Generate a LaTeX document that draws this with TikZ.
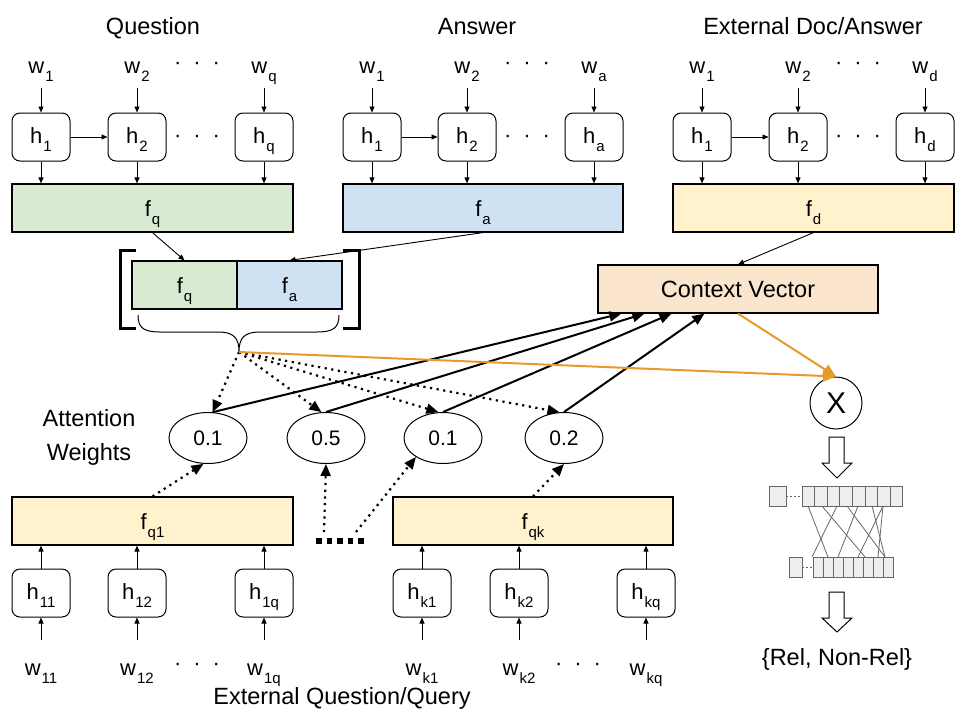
\documentclass[tikz,border=0pt]{standalone}
\usepackage{fontspec}
\setmainfont{Liberation Sans}
\usetikzlibrary{arrows.meta,shapes.geometric}

\definecolor{qgreen}{HTML}{D9EAD3}
\definecolor{ablue}{HTML}{CFE2F3}
\definecolor{dyellow}{HTML}{FFF2CC}
\definecolor{cpeach}{HTML}{FCE5CD}
\definecolor{mixorange}{HTML}{E8992B}
\definecolor{netgray}{HTML}{666666}
\definecolor{cellgray}{HTML}{EEEEEE}

\newcommand{\lowidx}[1]{\kern1pt\raisebox{-8pt}{\fontsize{15}{15}\selectfont #1}}
\newcommand{\threedots}{·\hspace{12pt}·\hspace{12pt}·}

\begin{document}
\begin{tikzpicture}[x=1pt,y=-1pt,
  hbox/.style={draw,line width=1pt,rounded corners=8pt,minimum width=58pt,minimum height=48pt,
    inner sep=0pt,text height=16pt,text depth=4pt,font=\fontsize{22}{26}\selectfont},
  featbox/.style={draw,line width=1.2pt,minimum width=281pt,minimum height=48pt,
    inner sep=0pt,text height=16pt,text depth=0pt,font=\fontsize{22}{26}\selectfont},
  wlab/.style={anchor=base,inner sep=0pt,font=\fontsize{22}{26}\selectfont},
  head/.style={anchor=base,inner sep=0pt,font=\fontsize{23.5}{28}\selectfont},
  weight/.style={draw,ellipse,line width=1pt,minimum width=78pt,minimum height=51pt,
    inner sep=0pt,font=\fontsize{21}{25}\selectfont},
  feed/.style={-{Triangle[length=6pt,width=5pt]},line width=0.9pt},
  attnarr/.style={-{Triangle[length=12pt,width=10pt]},line width=2pt},
  dotarr/.style={-{Triangle[length=12pt,width=10pt]},line width=2.2pt,dash pattern=on 2.2pt off 4.5pt},
  mixarr/.style={-{Triangle[length=13pt,width=11pt]},line width=2pt,mixorange},
  netline/.style={netgray,line width=0.8pt}]
\useasboundingbox (0,0) rectangle (960,720);

% question encoder
\node[head] (qtitle) at (153,34) {Question};
\node[wlab] (qw1) at (41,73) {w\lowidx{1}};
\node[wlab] (qw2) at (137,73) {w\lowidx{2}};
\node[wlab] (qwq) at (264,73) {w\lowidx{q}};
\node[wlab] (qwdots) at (197,69.5) {\threedots};
\node[hbox] (qh1) at (41,137) {h\lowidx{1}};
\node[hbox] (qh2) at (137,137) {h\lowidx{2}};
\node[hbox] (qhq) at (264,137) {h\lowidx{q}};
\node[wlab] (qhdots) at (197,142.5) {\threedots};
\node[featbox,fill=qgreen] (fq) at (152.5,208) {f\lowidx{q}};
\draw[feed] ([yshift=-15pt]qw1.base) -- (qh1);
\draw[feed] ([yshift=-15pt]qw2.base) -- (qh2);
\draw[feed] ([yshift=-15pt]qwq.base) -- (qhq);
\draw[feed] (qh1) -- (qh2);
\draw[feed] (qh1) -- (qh1 |- fq.north);
\draw[feed] (qh2) -- (qh2 |- fq.north);
\draw[feed] (qhq) -- (qhq |- fq.north);

% answer encoder
\node[head] (atitle) at (477,34) {Answer};
\node[wlab] (aw1) at (372,73) {w\lowidx{1}};
\node[wlab] (aw2) at (467,73) {w\lowidx{2}};
\node[wlab] (awa) at (594,73) {w\lowidx{a}};
\node[wlab] (awdots) at (527,69.5) {\threedots};
\node[hbox] (ah1) at (372,137) {h\lowidx{1}};
\node[hbox] (ah2) at (467,137) {h\lowidx{2}};
\node[hbox] (aha) at (594,137) {h\lowidx{a}};
\node[wlab] (ahdots) at (527,142.5) {\threedots};
\node[featbox,fill=ablue,minimum width=280pt] (fa) at (483,208) {f\lowidx{a}};
\draw[feed] ([yshift=-15pt]aw1.base) -- (ah1);
\draw[feed] ([yshift=-15pt]aw2.base) -- (ah2);
\draw[feed] ([yshift=-15pt]awa.base) -- (aha);
\draw[feed] (ah1) -- (ah2);
\draw[feed] (ah1) -- (ah1 |- fa.north);
\draw[feed] (ah2) -- (ah2 |- fa.north);
\draw[feed] (aha) -- (aha |- fa.north);

% external doc encoder
\node[head] (dtitle) at (813,34) {External Doc/Answer};
\node[wlab] (dw1) at (702,73) {w\lowidx{1}};
\node[wlab] (dw2) at (798,73) {w\lowidx{2}};
\node[wlab] (dwd) at (925,73) {w\lowidx{d}};
\node[wlab] (dwdots) at (858,69.5) {\threedots};
\node[hbox] (dh1) at (702,137) {h\lowidx{1}};
\node[hbox] (dh2) at (798,137) {h\lowidx{2}};
\node[hbox] (dhd) at (925,137) {h\lowidx{d}};
\node[wlab] (dhdots) at (858,142.5) {\threedots};
\node[featbox,fill=dyellow] (fd) at (813.5,208) {f\lowidx{d}};
\draw[feed] ([yshift=-15pt]dw1.base) -- (dh1);
\draw[feed] ([yshift=-15pt]dw2.base) -- (dh2);
\draw[feed] ([yshift=-15pt]dwd.base) -- (dhd);
\draw[feed] (dh1) -- (dh2);
\draw[feed] (dh1) -- (dh1 |- fd.north);
\draw[feed] (dh2) -- (dh2 |- fd.north);
\draw[feed] (dhd) -- (dhd |- fd.north);

% concatenated question/answer
\node[featbox,fill=qgreen,minimum width=105pt] (cq) at (184.5,285) {f\lowidx{q}};
\node[featbox,fill=ablue,minimum width=105pt] (ca) at (289.5,285) {f\lowidx{a}};
\draw[feed] (fq.south) -- (cq.north);
\draw[feed] (fa.south) -- (ca.north);
\draw[line width=3pt] (136,250) -- (120,250) -- (120,328) -- (136,328);
\draw[line width=3pt] (343,250) -- (359,250) -- (359,328) -- (343,328);
\coordinate (tip) at (239,352);
\draw[line width=1pt] (138,315) .. controls (138,328) and (144,332) .. (160,332) -- (218,332)
  .. controls (234,332) and (239,338) .. (tip) .. controls (239,338) and (244,332) .. (260,332)
  -- (317,332) .. controls (333,332) and (339,328) .. (339,315);

% context vector
\node[featbox,fill=cpeach,minimum width=280pt,text height=17pt,font=\fontsize{23.5}{28}\selectfont] (cv) at (738,289) {Context Vector};
\draw[feed] (fd.south) -- (cv.north);

% attention weights
\node[align=center,inner sep=0pt,font=\fontsize{23.5}{34}\selectfont] (attn) at (89,437) {Attention\\Weights};
\node[weight] (e1) at (208,438) {0.1};
\node[weight] (e2) at (326,438) {0.5};
\node[weight] (e3) at (443,438) {0.1};
\node[weight] (e4) at (564,438) {0.2};

\draw[dotarr] (tip) -- (e1.80);
\draw[dotarr] (tip) -- (e2.100);
\draw[dotarr] (tip) -- (e3.100);
\draw[dotarr] (tip) -- (e4.100);

\draw[attnarr] (e1.80) -- ([xshift=24pt]cv.south west);
\draw[attnarr] (e2.north) -- ([xshift=47pt]cv.south west);
\draw[attnarr] (e3.north) -- ([xshift=74pt]cv.south west);
\draw[attnarr] (e4.north) -- ([xshift=107pt]cv.south west);

% external question/query encoders
\node[featbox,fill=dyellow] (fq1) at (152.5,521) {f\lowidx{q1}};
\node[featbox,fill=dyellow,minimum width=280pt] (fqk) at (533,521) {f\lowidx{qk}};
\node[hbox] (h11) at (41,593) {h\lowidx{11}};
\node[hbox] (h12) at (137,593) {h\lowidx{12}};
\node[hbox] (h1q) at (264,593) {h\lowidx{1q}};
\node[hbox] (hk1) at (422,593) {h\lowidx{k1}};
\node[hbox] (hk2) at (519,593) {h\lowidx{k2}};
\node[hbox] (hkq) at (646,593) {h\lowidx{kq}};
\node[wlab] (w11) at (41,675) {w\lowidx{11}};
\node[wlab] (w12) at (137,675) {w\lowidx{12}};
\node[wlab] (w1q) at (264,675) {w\lowidx{1q}};
\node[wlab] (w1dots) at (197,670.5) {\threedots};
\node[wlab] (wk1) at (422,675) {w\lowidx{k1}};
\node[wlab] (wk2) at (519,675) {w\lowidx{k2}};
\node[wlab] (wkq) at (646,675) {w\lowidx{kq}};
\node[wlab] (wkdots) at (578,670.5) {\threedots};
\node[head] (extq) at (342,704) {External Question/Query};

\draw[feed] ([yshift=35pt]w11.base) -- (h11);
\draw[feed] ([yshift=35pt]w12.base) -- (h12);
\draw[feed] ([yshift=35pt]w1q.base) -- (h1q);
\draw[feed] ([yshift=35pt]wk1.base) -- (hk1);
\draw[feed] ([yshift=35pt]wk2.base) -- (hk2);
\draw[feed] ([yshift=35pt]wkq.base) -- (hkq);
\draw[feed] (h11) -- (h11 |- fq1.south);
\draw[feed] (h12) -- (h12 |- fq1.south);
\draw[feed] (h1q) -- (h1q |- fq1.south);
\draw[feed] (hk1) -- (hk1 |- fqk.south);
\draw[feed] (hk2) -- (hk2 |- fqk.south);
\draw[feed] (hkq) -- (hkq |- fqk.south);

\draw[line width=5.5pt,dash pattern=on 5.5pt off 5pt] (316,541) -- (366,541);
\coordinate (gapa) at (324,532);
\coordinate (gapb) at (356,532);
\draw[dotarr] (fq1.north) -- (e1.-100);
\draw[dotarr] (gapa) -- (e2.south);
\draw[dotarr] (gapb) -- (e3.-145);
\draw[dotarr] (fqk.north) -- (e4.south);

% product and classifier
\node[draw,circle,line width=1pt,minimum size=52pt,inner sep=0pt,font=\fontsize{30}{36}\selectfont] (xn) at (836,403) {X};
\draw[mixarr] (tip) -- (xn.north);
\draw[mixarr] (cv.south) -- (xn.north);

\draw[line width=1pt,fill=white] (829,437) -- (844,437) -- (844,463) -- (852,463) -- (837,478) -- (822,463) -- (829,463) -- cycle;
\draw[line width=1pt,fill=white] (829,592) -- (844,592) -- (844,618) -- (852,618) -- (837,632) -- (822,618) -- (829,618) -- cycle;

\draw[netline,fill=cellgray] (769,486) rectangle (786,506);
\draw[netline,dash pattern=on 2pt off 2pt] (786,496) -- (802,496);
\foreach \i in {0,...,7}
  \draw[netline,fill=cellgray] ({802+12.6*\i},486) rectangle ++(12.6,20);
\draw[netline,fill=cellgray] (789,557) rectangle (802,577);
\draw[netline,dash pattern=on 2pt off 2pt] (802,567) -- (813,567);
\foreach \i in {0,...,7}
  \draw[netline,fill=cellgray] ({813+10*\i},557) rectangle ++(10,20);
\foreach \a/\b in {808/828, 837/812, 822/865, 847/885, 858/838, 872/885, 883/858, 883/878}
  \draw[netline] (\a,506) -- (\b,557);

\node[head] (out) at (837,665) {\{Rel, Non-Rel\}};

\end{tikzpicture}
\end{document}
